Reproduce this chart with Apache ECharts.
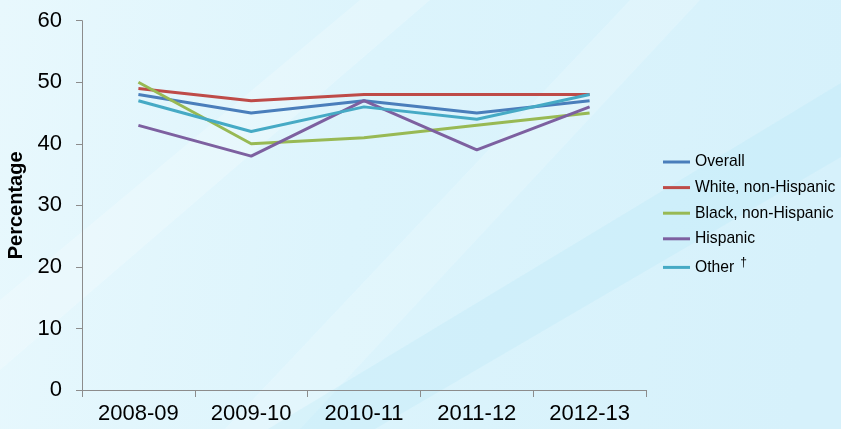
<!DOCTYPE html>
<html>
<head>
<meta charset="utf-8">
<script src="https://cdn.jsdelivr.net/npm/echarts@6/dist/echarts.min.js"></script>
<style>
html,body{margin:0;padding:0;}
#main{width:841px;height:429px;}
</style>
</head>
<body>
<div id="main"></div>
<script>
// school years
var years = ['2008-09', '2009-10', '2010-11', '2011-12', '2012-13'];
// percentages
var overall = [48, 45, 47, 45, 47];
var white = [49, 47, 48, 48, 48];
var black = [50, 40, 41, 43, 45];
var hispanic = [43, 38, 47, 39, 46];
var other = [47, 42, 46, 44, 48];
var seriesNames = ['Overall', 'White, non-Hispanic', 'Black, non-Hispanic', 'Hispanic', 'Other'];
var seriesColors = ['#4a7ebb', '#be4b48', '#98b954', '#7d60a0', '#46aac5'];
var yTicks = [0, 10, 20, 30, 40, 50, 60];

var font = 'Liberation Sans, Arial, sans-serif';

function makeLine(name, data, color){
	return {
		name: name,
		type: 'line',
		data: data,
		symbol: 'none',
		color: color,
		lineStyle: {width: 3, color: color},
		z: 3
	};
}

var allData = [overall, white, black, hispanic, other];
var series = [];
for(var i = 0; i < seriesNames.length; i++){
	series.push(makeLine(seriesNames[i], allData[i], seriesColors[i]));
}

var option = {
	animation: false,
	backgroundColor: {
		type: 'linear', x: 0, y: 0, x2: 1, y2: 0.3,
		colorStops: [
			{offset: 0, color: '#e8f8fd'},
			{offset: 0.45, color: '#dcf4fc'},
			{offset: 1, color: '#d6f1fb'}
		]
	},
	// soft diagonal streaks of the slide background
	graphic: [
		{type: 'polygon', silent: true, z: -10,
			shape: {points: [[0, 300], [0, 370], [430, 0], [360, 0]]},
			style: {fill: 'rgba(255,255,255,0.22)'}},
		{type: 'polygon', silent: true, z: -10,
			shape: {points: [[225, 429], [300, 429], [700, 0], [630, 0]]},
			style: {fill: 'rgba(255,255,255,0.18)'}},
		{type: 'polygon', silent: true, z: -10,
			shape: {points: [[268, 429], [375, 429], [841, 157], [841, 83]]},
			style: {fill: 'rgba(175,228,247,0.22)'}}
	],
	grid: {left: 82, right: 195, top: 20.7, bottom: 39, outerBoundsMode: 'none'},
	legend: {
		orient: 'vertical',
		left: 658,
		top: 149,
		icon: 'rect',
		itemWidth: 27,
		itemHeight: 3,
		itemGap: 9.6,
		data: seriesNames,
		textStyle: {
			fontFamily: font, fontSize: 15.7, color: '#000', lineHeight: 16,
			rich: {
				s: {fontFamily: font, fontSize: 12, color: '#000', padding: [0, 0, 10, 6]}
			}
		},
		formatter: function(name){
			if(name == 'Other') return 'Other{s|†}';
			return name;
		}
	},
	xAxis: {
		type: 'category',
		data: years,
		boundaryGap: true,
		axisLine: {lineStyle: {color: '#8c8c8c', width: 1}},
		axisTick: {show: true, length: 7, lineStyle: {color: '#8c8c8c'}},
		axisLabel: {fontFamily: font, fontSize: 22, color: '#000', margin: 13},
		splitLine: {show: false}
	},
	yAxis: {
		type: 'value',
		min: yTicks[0],
		max: yTicks[yTicks.length - 1],
		interval: 10,
		name: 'Percentage',
		nameLocation: 'middle',
		nameRotate: 90,
		nameGap: 54,
		nameTextStyle: {fontFamily: font, fontSize: 20, fontWeight: 'bold', color: '#000'},
		axisLine: {show: true, lineStyle: {color: '#8c8c8c', width: 1}},
		axisTick: {show: true, length: 6, lineStyle: {color: '#8c8c8c'}},
		axisLabel: {fontFamily: font, fontSize: 22, color: '#000', margin: 20},
		splitLine: {show: false}
	},
	series: series
};

var myChart = echarts.init(document.getElementById('main'));
myChart.setOption(option);
</script>
</body>
</html>
